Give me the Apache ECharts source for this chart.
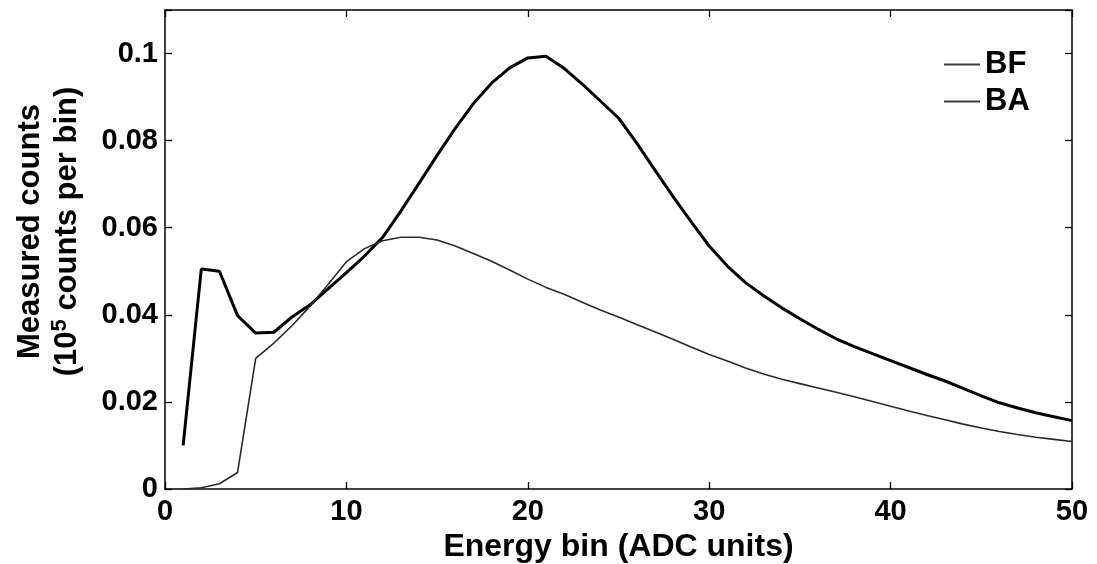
<!DOCTYPE html>
<html>
<head>
<meta charset="utf-8">
<title>Measured counts per energy bin</title>
<script src="https://cdn.jsdelivr.net/npm/echarts@6/dist/echarts.min.js"></script>
<style>
  html, body { margin: 0; padding: 0; background: #fff; }
  #chart { width: 1097px; height: 564px; }
</style>
</head>
<body>
<div id="chart"></div>
<script>
// Energy bins (ADC units)
const bins = [1, 2, 3, 4, 5, 6, 7, 8, 9, 10,
              11, 12, 13, 14, 15, 16, 17, 18, 19, 20,
              21, 22, 23, 24, 25, 26, 27, 28, 29, 30,
              31, 32, 33, 34, 35, 36, 37, 38, 39, 40,
              41, 42, 43, 44, 45, 46, 47, 48, 49, 50];

// Measured counts (10^5 counts per bin)
const countsBF = [0.0000, 0.0003, 0.0012, 0.0038, 0.0300, 0.0335, 0.0375, 0.0420, 0.0470, 0.0522,
                  0.0552, 0.0570, 0.0578, 0.0578, 0.0572, 0.0558, 0.0541, 0.0523, 0.0503, 0.0482,
                  0.0463, 0.0447, 0.0429, 0.0411, 0.0395, 0.0378, 0.0361, 0.0344, 0.0326, 0.0309,
                  0.0294, 0.0278, 0.0264, 0.0252, 0.0242, 0.0232, 0.0222, 0.0212, 0.0201, 0.0190,
                  0.0179, 0.0169, 0.0159, 0.0149, 0.0140, 0.0132, 0.0125, 0.0119, 0.0114, 0.0109];

const countsBA = [0.0100, 0.0505, 0.0500, 0.0398, 0.0358, 0.0360, 0.0395, 0.0423, 0.0460, 0.0497,
                  0.0535, 0.0578, 0.0638, 0.0702, 0.0766, 0.0828, 0.0885, 0.0932, 0.0967, 0.0990,
                  0.0994, 0.0966, 0.0930, 0.0891, 0.0852, 0.0795, 0.0733, 0.0672, 0.0614, 0.0558,
                  0.0512, 0.0474, 0.0444, 0.0416, 0.0391, 0.0367, 0.0345, 0.0327, 0.0311, 0.0295,
                  0.0279, 0.0263, 0.0248, 0.0231, 0.0214, 0.0198, 0.0186, 0.0175, 0.0166, 0.0157];

const xTicks = [0, 10, 20, 30, 40, 50];
const yTicks = [0, 0.02, 0.04, 0.06, 0.08, 0.1];

const FONT = '"Liberation Sans", Arial, sans-serif';

const pairs = (xs, ys) => xs.map((x, i) => [x, ys[i]]);

const yLabel = v => {
  const hit = yTicks.find(t => Math.abs(t - v) < 1e-9);
  return hit === undefined ? '' : String(hit);
};
const xLabel = v => (xTicks.indexOf(Math.round(v)) >= 0 ? String(Math.round(v)) : '');

// MATLAB-style inward ticks on every side of the box
const makeTicks = () => ({ show: true, inside: true, length: 7, lineStyle: { color: '#000', width: 1.3 } });
const makeLine = () => ({ show: true, onZero: false, lineStyle: { color: '#000', width: 1.5 } });

const chart = echarts.init(document.getElementById('chart'), null, { renderer: 'canvas' });

chart.setOption({
  backgroundColor: '#fff',
  animation: false,
  grid: {
    left: 165, right: 25, top: 10, bottom: 75,
    outerBoundsMode: 'none',
    containLabel: false,
    show: false
  },
  legend: {
    orient: 'vertical',
    left: 939, top: 44,
    icon: 'rect',
    itemWidth: 36, itemHeight: 2, itemGap: 6,
    data: ['BF', 'BA'],
    textStyle: { fontFamily: FONT, fontWeight: 'bold', fontSize: 31, color: '#000', padding: [0, 0, 0, 0] }
  },
  xAxis: [
    {
      type: 'value', min: 0, max: 50, interval: 10,
      position: 'bottom',
      axisLine: makeLine(),
      axisTick: makeTicks(),
      splitLine: { show: false },
      axisLabel: { formatter: xLabel, fontFamily: FONT, fontWeight: 'bold', fontSize: 29, color: '#000', margin: 8 },
      name: 'Energy bin (ADC units)',
      nameLocation: 'middle', nameGap: 37,
      nameTextStyle: { fontFamily: FONT, fontWeight: 'bold', fontSize: 32, color: '#000' }
    },
    {
      type: 'value', min: 0, max: 50, interval: 10,
      position: 'top',
      axisLine: makeLine(),
      axisTick: makeTicks(),
      axisLabel: { show: false },
      splitLine: { show: false }
    }
  ],
  yAxis: [
    {
      type: 'value', min: 0, max: 0.11, interval: 0.02,
      position: 'left',
      axisLine: makeLine(),
      axisTick: makeTicks(),
      splitLine: { show: false },
      axisLabel: { formatter: yLabel, fontFamily: FONT, fontWeight: 'bold', fontSize: 29, color: '#000', margin: 7 },
      name: 'Measured counts\n{a|(10}{s|5}{a| counts per bin)}',
      nameLocation: 'middle', nameRotate: 90, nameGap: 79,
      nameTextStyle: {
        fontFamily: FONT, fontWeight: 'bold', fontSize: 31, color: '#000', lineHeight: 37,
        padding: [0, 0, 0, 36],
        rich: {
          a: { fontFamily: FONT, fontWeight: 'bold', fontSize: 31, color: '#000', lineHeight: 37 },
          s: { fontFamily: FONT, fontWeight: 'bold', fontSize: 22, color: '#000', lineHeight: 37, verticalAlign: 'top' }
        }
      }
    },
    {
      type: 'value', min: 0, max: 0.11, interval: 0.02,
      position: 'right',
      axisLine: makeLine(),
      axisTick: makeTicks(),
      axisLabel: { show: false },
      splitLine: { show: false }
    }
  ],
  series: [
    {
      name: 'BF', type: 'line', symbol: 'none',
      data: pairs(bins, countsBF),
      lineStyle: { color: '#2a2a2a', width: 1.6 },
      itemStyle: { color: '#3a3a3a' },
      z: 3
    },
    {
      name: 'BA', type: 'line', symbol: 'none',
      data: pairs(bins, countsBA),
      lineStyle: { color: '#000', width: 3 },
      itemStyle: { color: '#3a3a3a' },
      z: 2
    }
  ]
});
</script>
</body>
</html>
